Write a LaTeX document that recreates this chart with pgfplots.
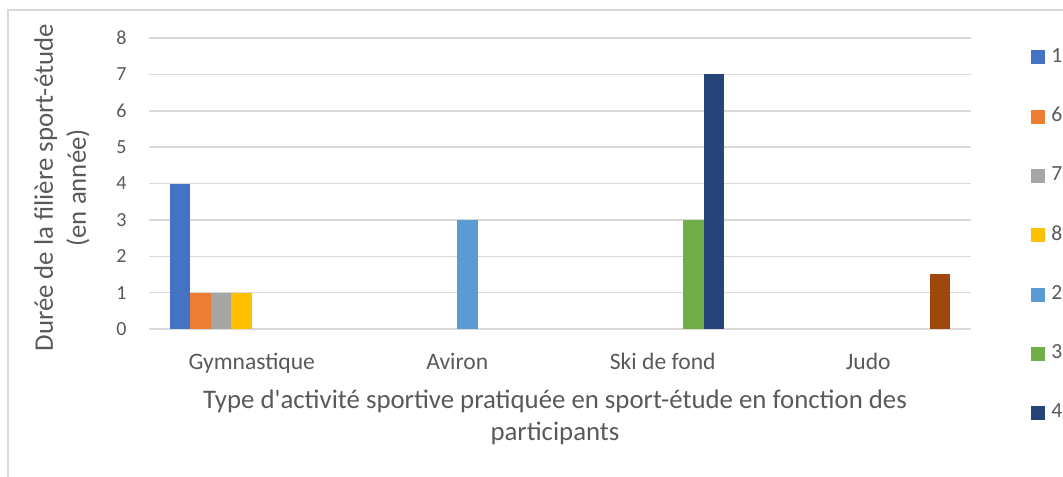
\documentclass[border=0pt]{standalone}
\usepackage{fontspec}
\setmainfont{Carlito}[Ligatures=TeXOff]
\usepackage{pgfplots}
\pgfplotsset{compat=1.18}
\definecolor{cA}{HTML}{4472C4}
\definecolor{cF}{HTML}{ED7D31}
\definecolor{cG}{HTML}{A5A5A5}
\definecolor{cH}{HTML}{FFC000}
\definecolor{cB}{HTML}{5B9BD5}
\definecolor{cC}{HTML}{70AD47}
\definecolor{cD}{HTML}{264478}
\definecolor{cE}{HTML}{9E480E}
\definecolor{gridc}{HTML}{D9D9D9}
\definecolor{txt}{HTML}{595959}
\begin{document}
\begin{tikzpicture}
\path[use as bounding box] (0pt,0pt) rectangle (531.5pt,238pt);
\clip (0pt,0pt) rectangle (531.5pt,238pt);
\draw[gridc, line width=0.75pt] (4pt,-2pt) -- (4pt,233pt) -- (540pt,233pt);
\begin{axis}[
  at={(74.5pt,73.5pt)}, anchor=south west,
  width=411pt, height=145.5pt, scale only axis,
  xmin=-0.5, xmax=3.5, ymin=0, ymax=8,
  ybar, bar width=0.1,
  xtick={0,1,2,3},
  xticklabels={Gymnastique,Aviron,Ski de fond,Judo},
  ytick={0,1,...,8},
  axis line style={draw=none},
  tick style={draw=none},
  major tick length=0pt,
  ymajorgrids, grid style={gridc, line width=0.75pt},
  /pgf/number format/assume math mode=true,
  tick label style={font=\fontsize{10}{12}\selectfont, text=txt},
  xticklabel style={font=\fontsize{11.8}{13}\selectfont, anchor=base, inner sep=0pt, yshift=-20pt},
  yticklabel style={anchor=east, inner sep=0pt, xshift=-11pt},
  xlabel={Type d'activité sportive pratiquée en sport-étude en fonction des\\participants},
  xlabel style={font=\fontsize{13.4}{16}\selectfont, text=txt, align=center, inner sep=0pt,
    at={(axis description cs:0.4939,0)}, anchor=base, yshift=-55.5pt},
  ylabel={Durée de la filière sport-étude\\(en année)},
  ylabel style={font=\fontsize{13.4}{16.5}\selectfont, text=txt, align=center, inner sep=0pt,
    at={(axis description cs:-0.1058,0.485)}, anchor=center},
  legend image code/.code={\fill[#1] (0pt,-3.8pt) rectangle (7pt,3.2pt);},
  legend cell align=left,
  legend style={draw=none, fill=none, inner sep=0pt, at={(1.073,0.9657)}, anchor=north west,
    font=\fontsize{10.8}{12}\selectfont, text=txt, row sep=21pt, column sep=3pt,
    nodes={inner sep=0pt}},
]
\addplot[fill=cA, draw=none, bar shift=-0.35] coordinates {(0,4)};
\addlegendentry{1}
\addplot[fill=cF, draw=none, bar shift=-0.25] coordinates {(0,1)};
\addlegendentry{6}
\addplot[fill=cG, draw=none, bar shift=-0.15] coordinates {(0,1)};
\addlegendentry{7}
\addplot[fill=cH, draw=none, bar shift=-0.05] coordinates {(0,1)};
\addlegendentry{8}
\addplot[fill=cB, draw=none, bar shift=0.05] coordinates {(1,3)};
\addlegendentry{2}
\addplot[fill=cC, draw=none, bar shift=0.15] coordinates {(2,3)};
\addlegendentry{3}
\addplot[fill=cD, draw=none, bar shift=0.25] coordinates {(2,7)};
\addlegendentry{4}
\addplot[fill=cE, draw=none, bar shift=0.35, forget plot] coordinates {(3,1.5)};
\end{axis}
\end{tikzpicture}
\end{document}
